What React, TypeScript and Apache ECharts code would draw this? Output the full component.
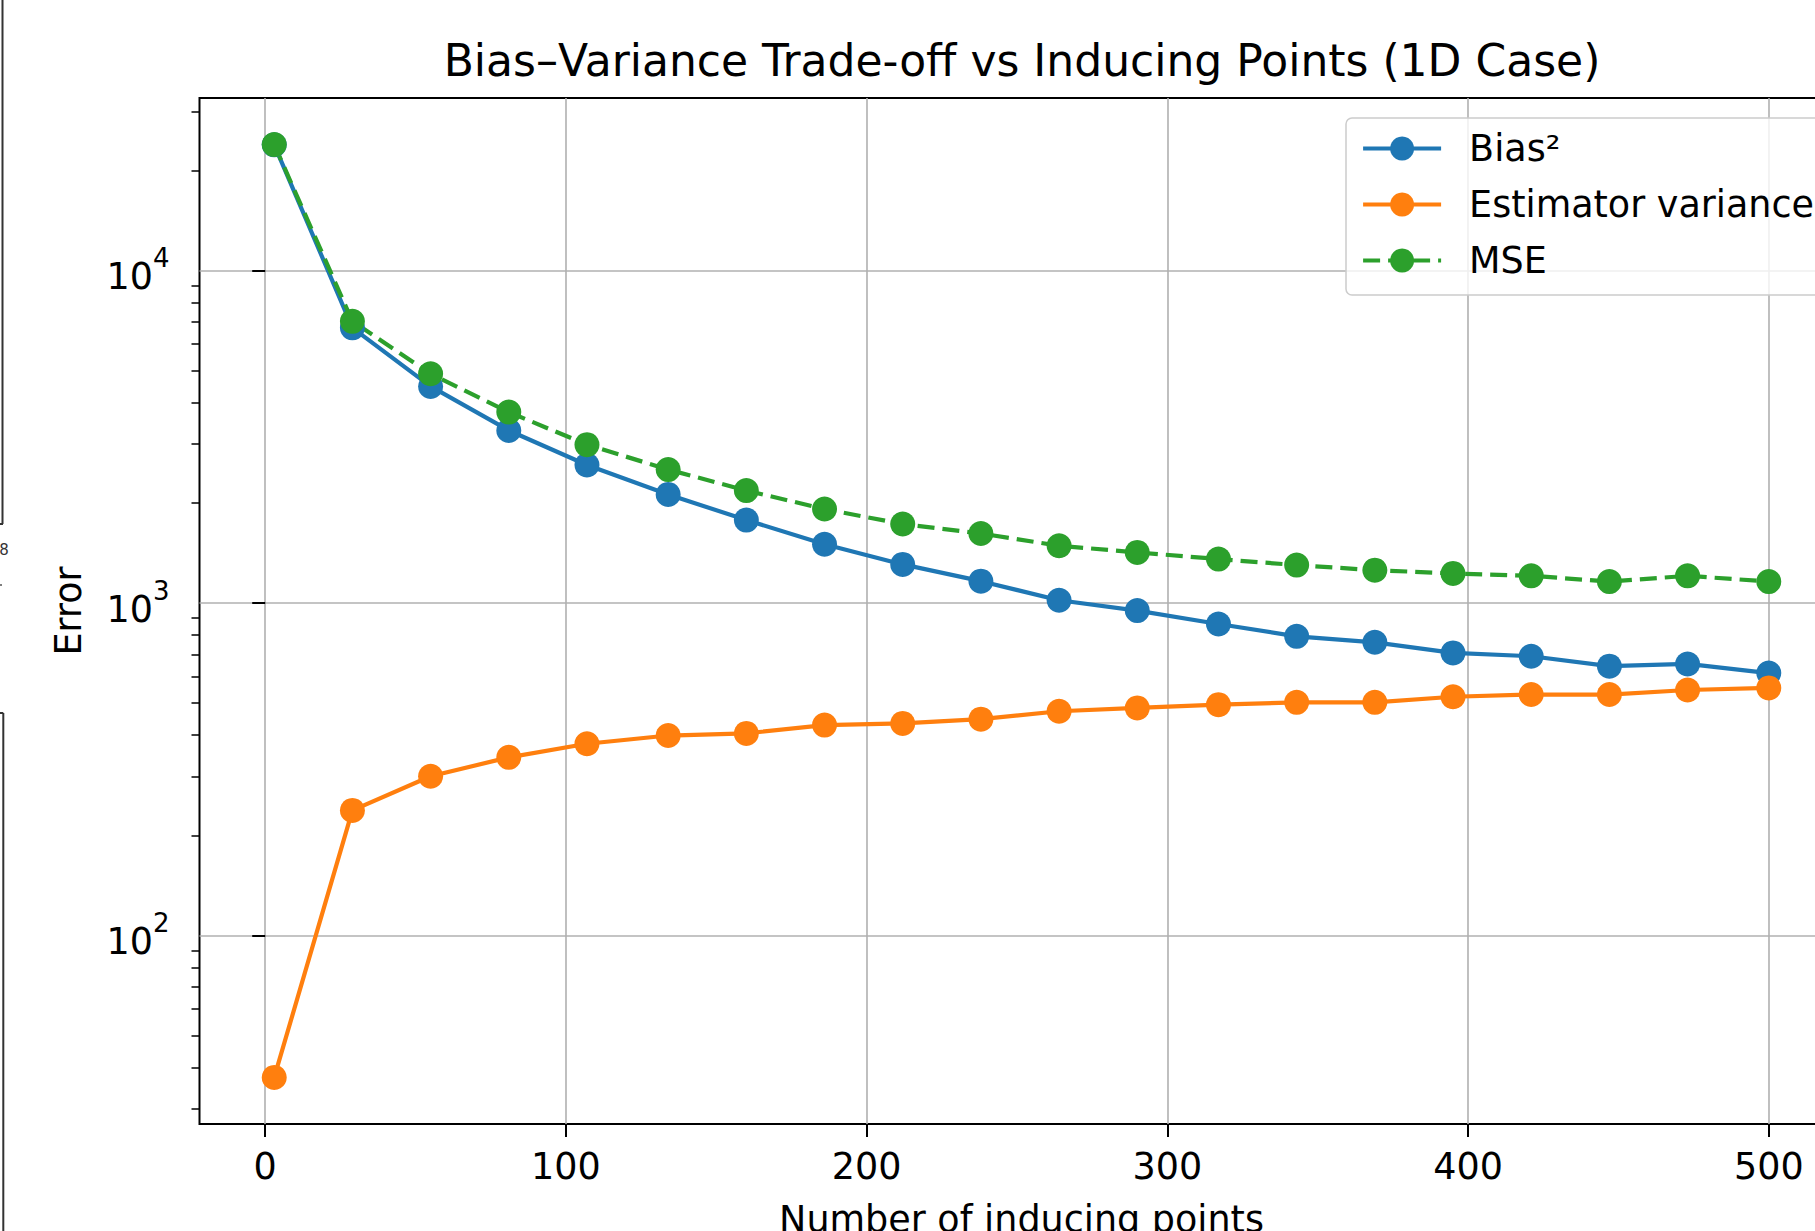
import React, { useEffect, useRef } from "react";
import * as echarts from "echarts";

// Number of inducing points (x positions of markers)
const inducingPoints = [3, 29, 55, 81, 107, 134, 160, 186, 212, 238, 264, 290, 317, 343, 369, 395, 421, 447, 473, 500];
// Bias² values
const biasSq = [23850, 6717, 4477, 3300, 2598, 2119, 1774, 1501, 1305, 1162, 1018, 948, 864, 793, 761, 707, 691, 645, 655, 615];
// Estimator variance values
const estVariance = [37.4, 237.6, 301, 343, 377, 399, 405, 429, 434, 447, 472, 483, 494, 502, 502, 522, 530, 530, 547, 555];
// MSE values
const mseValues = [23890, 7025, 4887, 3747, 2991, 2517, 2176, 1915, 1726, 1617, 1485, 1418, 1354, 1299, 1254, 1226, 1206, 1159, 1206, 1159];

const xTickValues = [0, 100, 200, 300, 400, 500];
const yMajorTickValues = [100, 1000, 10000];
const yMinorTickValues = [30, 40, 50, 60, 70, 80, 90, 200, 300, 400, 500, 600, 700, 800, 900, 2000, 3000, 4000, 5000, 6000, 7000, 8000, 9000, 20000, 30000];

const X_MIN = -21.85;
const X_MAX = 524.85;
const Y_MIN = 27.08;
const Y_MAX = 32990;

const TITLE = "Bias–Variance Trade-off vs Inducing Points (1D Case)";
const FONT = "DejaVu Sans";
const C_BLUE = "#1f77b4";
const C_ORANGE = "#ff7f0e";
const C_GREEN = "#2ca02c";
const FS = 36.5;

export default function App() {
  const ref = useRef<HTMLDivElement>(null);

  useEffect(() => {
    const chart = echarts.init(ref.current as HTMLDivElement, null, { renderer: "svg" });
    const pairs = (ys: number[]) => inducingPoints.map((x, i) => [x, ys[i]]);
    const tickLine = { color: "#000", width: 2 };
    const gridLine = { color: "#b0b0b0", width: 1.6 };
    const LW = 4.2;
    const SS = 25;

    chart.setOption({
      animation: false,
      backgroundColor: "#ffffff",
      textStyle: { fontFamily: FONT },
      grid: {
        left: 199.5,
        top: 98,
        width: 1644,
        height: 1026,
        show: true,
        borderColor: "#000",
        borderWidth: 2,
        backgroundColor: "transparent",
        outerBoundsMode: "none",
        containLabel: false,
      },
      legend: {
        orient: "vertical",
        left: 1346,
        top: 118,
        itemWidth: 78,
        itemHeight: 30,
        itemGap: 19,
        padding: [12, 20, 16, 15],
        borderColor: "#cccccc",
        borderWidth: 1.5,
        borderRadius: 6,
        backgroundColor: "rgba(255,255,255,0.8)",
        lineStyle: { width: LW },
        textStyle: { fontSize: FS, color: "#000", fontFamily: FONT, padding: [0, 0, 0, 23] },
        data: ["Bias²", "Estimator variance", "MSE"],
      },
      xAxis: {
        type: "value",
        min: X_MIN,
        max: X_MAX,
        axisLine: { show: false },
        axisTick: { show: true, length: 13, customValues: xTickValues, lineStyle: tickLine },
        axisLabel: { customValues: xTickValues, margin: 24, fontSize: FS, color: "#000", fontFamily: FONT },
        splitLine: { show: true, lineStyle: gridLine },
        name: "Number of inducing points",
        nameLocation: "middle",
        nameGap: 77,
        nameTextStyle: { fontSize: FS, color: "#000", fontFamily: FONT },
      },
      yAxis: [
        {
          type: "log",
          logBase: 10,
          min: Y_MIN,
          max: Y_MAX,
          position: "left",
          axisLine: { show: false },
          axisTick: { show: true, length: 13, customValues: yMajorTickValues, lineStyle: tickLine },
          axisLabel: {
            customValues: yMajorTickValues,
            margin: 30,
            formatter: (v: number) => `{b|10}{s|${Math.round(Math.log10(v))}}`,
            rich: {
              b: { fontSize: FS, color: "#000", fontFamily: FONT, lineHeight: 50, verticalAlign: "bottom" },
              s: { fontSize: 26, color: "#000", fontFamily: FONT, lineHeight: 26, verticalAlign: "top" },
            },
          },
          splitLine: { show: true, lineStyle: gridLine },
          name: "Error",
          nameLocation: "middle",
          nameGap: 113,
          nameTextStyle: { fontSize: FS, color: "#000", fontFamily: FONT },
        },
        {
          type: "log",
          logBase: 10,
          min: Y_MIN,
          max: Y_MAX,
          position: "left",
          axisLine: { show: false },
          axisTick: { show: true, length: 8, customValues: yMinorTickValues, lineStyle: { color: "#000", width: 1.5 } },
          axisLabel: { show: false },
          splitLine: { show: false },
        },
      ],
      series: [
        {
          name: "Bias²",
          type: "line",
          data: pairs(biasSq),
          symbol: "circle",
          symbolSize: SS,
          color: C_BLUE,
          lineStyle: { color: C_BLUE, width: LW },
          itemStyle: { color: C_BLUE },
        },
        {
          name: "Estimator variance",
          type: "line",
          data: pairs(estVariance),
          symbol: "circle",
          symbolSize: SS,
          color: C_ORANGE,
          lineStyle: { color: C_ORANGE, width: LW },
          itemStyle: { color: C_ORANGE },
        },
        {
          name: "MSE",
          type: "line",
          data: pairs(mseValues),
          symbol: "circle",
          symbolSize: SS,
          color: C_GREEN,
          lineStyle: { color: C_GREEN, width: LW, type: [17, 8] },
          itemStyle: { color: C_GREEN },
        },
      ],
      graphic: [
        {
          type: "text",
          x: 1022,
          y: 60,
          style: {
            text: TITLE,
            fontSize: 44,
            fontFamily: FONT,
            fill: "#000",
            align: "center",
            verticalAlign: "middle",
          },
        },
        { type: "line", shape: { x1: 2.5, y1: 0, x2: 2.5, y2: 524 }, style: { stroke: "#333", lineWidth: 2 } },
        { type: "line", shape: { x1: 0, y1: 524, x2: 3, y2: 524 }, style: { stroke: "#333", lineWidth: 2 } },
        {
          type: "text",
          x: 4,
          y: 550,
          style: { text: "8", fontSize: 15, fontFamily: FONT, fill: "#333", align: "center", verticalAlign: "middle" },
        },
        { type: "line", shape: { x1: 0, y1: 585, x2: 2, y2: 585 }, style: { stroke: "#555", lineWidth: 1.5 } },
        { type: "line", shape: { x1: 0, y1: 713, x2: 3.3, y2: 713 }, style: { stroke: "#333", lineWidth: 2 } },
        { type: "line", shape: { x1: 3.3, y1: 713, x2: 3.3, y2: 1231 }, style: { stroke: "#333", lineWidth: 2 } },
      ],
    });

    return () => chart.dispose();
  }, []);

  return (
    <div style={{ position: "absolute", left: 0, top: 0, width: 1815, height: 1231, overflow: "hidden" }}>
      <div ref={ref} style={{ position: "absolute", left: 0, top: 0, width: 1900, height: 1231 }} />
    </div>
  );
}
